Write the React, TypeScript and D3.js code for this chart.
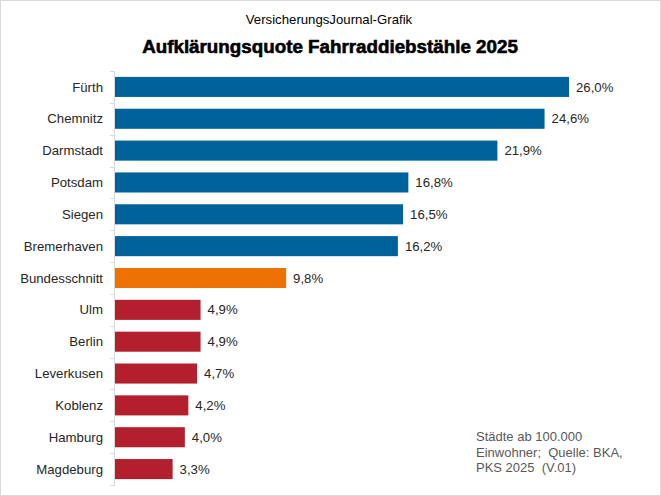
import * as d3 from 'd3';
import React, { useEffect, useRef } from 'react';

const cities = ['Fürth', 'Chemnitz', 'Darmstadt', 'Potsdam', 'Siegen', 'Bremerhaven', 'Bundesschnitt', 'Ulm', 'Berlin', 'Leverkusen', 'Koblenz', 'Hamburg', 'Magdeburg'];
const quote = [26.0, 24.6, 21.9, 16.8, 16.5, 16.2, 9.8, 4.9, 4.9, 4.7, 4.2, 4.0, 3.3];
const groups = ['top', 'top', 'top', 'top', 'top', 'top', 'avg', 'low', 'low', 'low', 'low', 'low', 'low'];
const noteLines = ['Städte ab 100.000', 'Einwohner;  Quelle: BKA,', 'PKS 2025  (V.01)'];

const colors: Record<string, string> = { top: '#00629B', avg: '#EE7203', low: '#B41F2D' };

const width = 661;
const height = 496;
const margin = { top: 71, right: 66, bottom: 11, left: 115 };
const font = 'Liberation Sans, Arial, sans-serif';

export default function App() {
    const svgRef = useRef<SVGSVGElement>(null);

    useEffect(() => {
        document.body.style.margin = '0';
        const svg = d3.select(svgRef.current);
        svg.selectAll('*').remove();

        const data = cities.map((c, i) => ({ city: c, value: quote[i], group: groups[i] }));

        const xScale = d3.scaleLinear()
            .domain([0, 26])
            .range([margin.left, 569]);

        const yScale = d3.scaleBand()
            .domain(cities)
            .range([margin.top, height - margin.bottom])
            .paddingInner(0.37)
            .paddingOuter(0.185);

        // frame
        svg.append('rect')
            .attr('x', 0.5).attr('y', 0.5)
            .attr('width', width - 1).attr('height', height - 1)
            .attr('fill', '#fff')
            .attr('stroke', '#d9d9d9');

        svg.append('text')
            .attr('x', 329).attr('y', 24)
            .attr('text-anchor', 'middle')
            .attr('font-family', font)
            .attr('font-size', 13.2)
            .attr('fill', '#000')
            .text('VersicherungsJournal-Grafik');

        svg.append('text')
            .attr('x', 330).attr('y', 53)
            .attr('text-anchor', 'middle')
            .attr('font-family', font)
            .attr('font-size', 18.8)
            .attr('font-weight', 'bold')
            .attr('fill', '#000')
            .attr('stroke', '#000')
            .attr('stroke-width', 0.6)
            .text('Aufklärungsquote Fahrraddiebstähle 2025');

        // bars
        svg.selectAll('rect.bar')
            .data(data)
            .enter()
            .append('rect')
            .attr('class', 'bar')
            .attr('x', xScale(0))
            .attr('y', d => yScale(d.city)!)
            .attr('width', d => xScale(d.value) - xScale(0))
            .attr('height', yScale.bandwidth())
            .attr('fill', d => colors[d.group]);

        svg.selectAll('text.value')
            .data(data)
            .enter()
            .append('text')
            .attr('class', 'value')
            .attr('x', d => xScale(d.value) + 7)
            .attr('y', d => yScale(d.city)! + yScale.bandwidth() / 2)
            .attr('dy', '0.35em')
            .attr('font-family', font)
            .attr('font-size', 13.2)
            .attr('fill', '#262626')
            .text(d => d3.format('.1f')(d.value).replace('.', ',') + '%');

        // category axis with ticks between bands
        const step = yScale.step();
        const axisG = svg.append('g').attr('stroke', '#d9d9d9').attr('shape-rendering', 'crispEdges');
        axisG.append('line')
            .attr('x1', margin.left - 0.5).attr('x2', margin.left - 0.5)
            .attr('y1', margin.top).attr('y2', height - margin.bottom);
        d3.range(cities.length + 1).forEach(i => {
            const y = Math.round(margin.top + i * step) + 0.5;
            axisG.append('line')
                .attr('x1', margin.left - 5).attr('x2', margin.left)
                .attr('y1', y).attr('y2', y);
        });

        svg.selectAll('text.cat')
            .data(data)
            .enter()
            .append('text')
            .attr('class', 'cat')
            .attr('x', margin.left - 12)
            .attr('y', d => yScale(d.city)! + yScale.bandwidth() / 2)
            .attr('dy', '0.35em')
            .attr('text-anchor', 'end')
            .attr('font-family', font)
            .attr('font-size', 13.2)
            .attr('fill', '#262626')
            .text(d => d.city);

        const note = svg.append('text')
            .attr('font-family', font)
            .attr('font-size', 13)
            .attr('fill', '#595959');
        noteLines.forEach((l, i) => {
            note.append('tspan')
                .attr('x', 476)
                .attr('y', 441 + i * 15.5)
                .attr('xml:space', 'preserve')
                .text(l);
        });
    }, []);

    return (
        <svg ref={svgRef} width={width} height={height} style={{ display: 'block' }} />
    );
}
